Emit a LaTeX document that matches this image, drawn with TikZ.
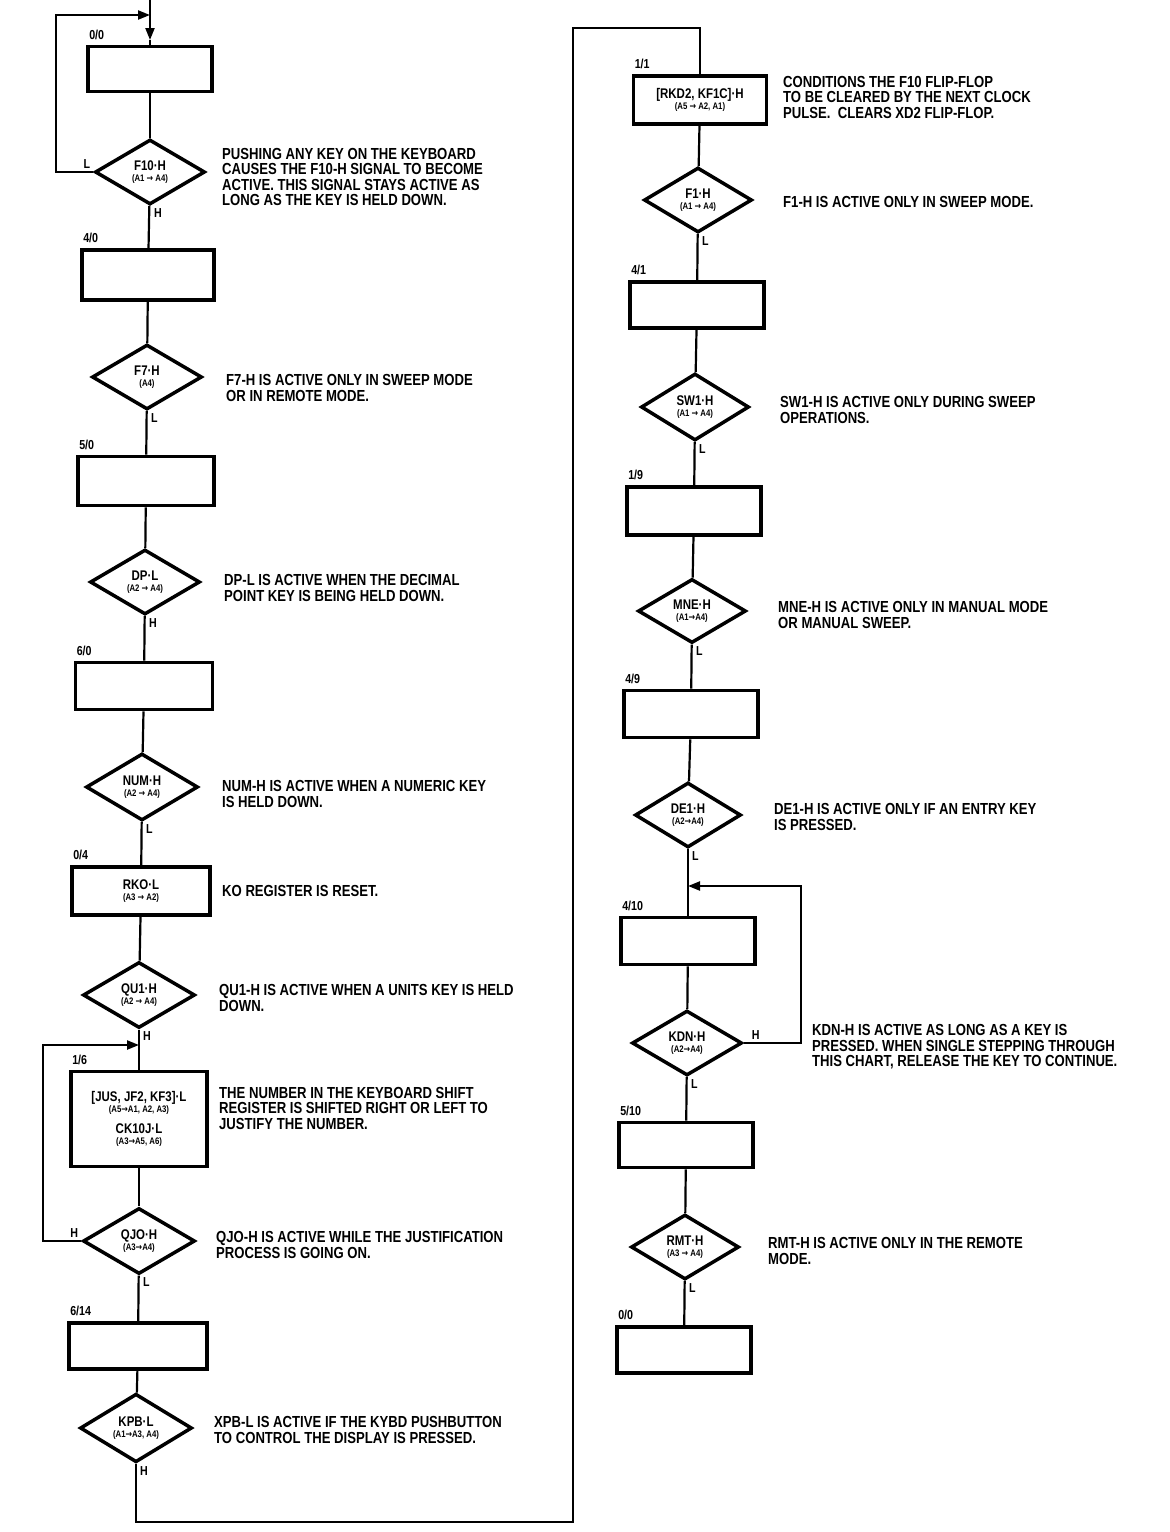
\documentclass[tikz,border=0pt]{standalone}
\usepackage{fontspec}
\setmainfont{Liberation Sans}[FakeStretch=0.82]
\newfontfamily\arrfont{DejaVu Sans}[FakeStretch=0.82]
\usetikzlibrary{shapes.geometric,arrows.meta}
\newcommand{\myarr}{{\arrfont\char"2192}}
\newcommand{\dtext}[2]{{\fontsize{14}{14}\selectfont #1}\\[-1pt]{\fontsize{9.5}{10}\selectfont #2}}
\begin{document}
\begin{tikzpicture}[x=1pt,y=-1pt,font=\bfseries,
  box/.style={draw,line width=3.8pt,inner sep=0pt,align=center},
  dia/.style={draw,diamond,line width=3.5pt,inner sep=0pt,align=center},
  conn/.style={line width=2.2pt},
  arr/.style={conn,-{Triangle[length=12pt,width=9pt]}},
  note/.style={anchor=west,align=left,inner sep=0pt,font=\bfseries\fontsize{16}{15.5}\selectfont},
  st/.style={anchor=south west,inner sep=0pt,font=\bfseries\fontsize{13}{13}\selectfont},
  el/.style={inner sep=0pt,font=\bfseries\fontsize{13}{13}\selectfont}]
\fill[white] (0,0) rectangle (1170,1532);
\useasboundingbox (0,0) rectangle (1170,1532);

% ---------------- left column ----------------
\node[box,minimum width=124pt,minimum height=45pt] (b00) at (150,69) {};
\node[dia,minimum width=110pt,minimum height=65pt] (d1) at (150,172) {\dtext{F10·H}{(A1 \myarr{} A4)}};
\node[box,minimum width=132pt,minimum height=50pt] (b40) at (148,275) {};
\node[dia,minimum width=110pt,minimum height=65pt] (d2) at (147,377) {\dtext{F7·H}{(A4)}};
\node[box,minimum width=136pt,minimum height=49pt] (b50) at (146,481) {};
\node[dia,minimum width=110pt,minimum height=65pt] (d3) at (145,582) {\dtext{DP·L}{(A2 \myarr{} A4)}};
\node[box,minimum width=137pt,minimum height=47pt] (b60) at (144,686) {};
\node[dia,minimum width=112pt,minimum height=67pt] (d4) at (142,787) {\dtext{NUM·H}{(A2 \myarr{} A4)}};
\node[box,minimum width=138pt,minimum height=48pt] (b04) at (141,891) {\dtext{RKO·L}{(A3 \myarr{} A2)}};
\node[dia,minimum width=112pt,minimum height=66pt] (d5) at (139,995) {\dtext{QU1·H}{(A2 \myarr{} A4)}};
\node[box,minimum width=136pt,minimum height=95pt] (b16) at (139,1119)
  {\dtext{[JUS, JF2, KF3]·L}{(A5\myarr{}A1, A2, A3)}\\[9pt]\dtext{CK10J·L}{(A3\myarr{}A5, A6)}};
\node[dia,minimum width=112pt,minimum height=66pt] (d6) at (139,1241) {\dtext{QJO·H}{(A3\myarr{}A4)}};
\node[box,minimum width=138pt,minimum height=46pt] (b614) at (138,1346) {};
\node[dia,minimum width=112pt,minimum height=66pt] (d7) at (136,1428) {\dtext{KPB·L}{(A1\myarr{}A3, A4)}};

\node[st] at ([xshift=3pt,yshift=5pt]b00.north west) {0/0};
\node[st] at ([xshift=3pt,yshift=5pt]b40.north west) {4/0};
\node[st] at ([xshift=3pt,yshift=5pt]b50.north west) {5/0};
\node[st] at ([xshift=3pt,yshift=5pt]b60.north west) {6/0};
\node[st] at ([xshift=3pt,yshift=5pt]b04.north west) {0/4};
\node[st] at ([xshift=3pt,yshift=5pt]b16.north west) {1/6};
\node[st] at ([xshift=3pt,yshift=5pt]b614.north west) {6/14};

\coordinate (top) at (150,0);
\coordinate (tarr) at (150,40);
\coordinate (l1) at (56,15);
\coordinate (tj) at (150,15);
\draw[arr] (top) -- (tarr);
\draw[conn] (tarr) -- (b00.north);
\draw[arr] (d1.west) -| (l1) -- (tj);
\draw[conn] (b00) -- (d1);
\draw[conn] (d1) -- (b40);
\draw[conn] (b40) -- (d2);
\draw[conn] (d2) -- (b50);
\draw[conn] (b50) -- (d3);
\draw[conn] (d3) -- (b60);
\draw[conn] (b60) -- (d4);
\draw[conn] (d4) -- (b04);
\draw[conn] (b04) -- (d5);
\draw[conn] (d5) -- (b16);
\draw[conn] (b16) -- (d6);
\draw[conn] (d6) -- (b614);
\draw[conn] (b614) -- (d7);
\coordinate (l2) at (43,1045);
\coordinate (tj2) at (139,1045);
\draw[arr] (d6.west) -| (l2) -- (tj2);

\node[el,anchor=south east] at ([xshift=-3pt,yshift=3pt]d1.west) {L};
\node[el,anchor=north west] at ([xshift=4pt,yshift=-2pt]d1.south) {H};
\node[el,anchor=north west] at ([xshift=4pt,yshift=-2pt]d2.south) {L};
\node[el,anchor=north west] at ([xshift=4pt,yshift=-2pt]d3.south) {H};
\node[el,anchor=north west] at ([xshift=4pt,yshift=-2pt]d4.south) {L};
\node[el,anchor=north west] at ([xshift=4pt,yshift=-2pt]d5.south) {H};
\node[el,anchor=south east] at ([xshift=-3pt,yshift=3pt]d6.west) {H};
\node[el,anchor=north west] at ([xshift=4pt,yshift=-2pt]d6.south) {L};
\node[el,anchor=north west] at ([xshift=4pt,yshift=-2pt]d7.south) {H};

\node[note] (n1) at (222,177) {PUSHING ANY KEY ON THE KEYBOARD\\CAUSES THE F10-H SIGNAL TO BECOME\\ACTIVE. THIS SIGNAL STAYS ACTIVE AS\\LONG AS THE KEY IS HELD DOWN.};
\node[note] (n2) at (226,388) {F7-H IS ACTIVE ONLY IN SWEEP MODE\\OR IN REMOTE MODE.};
\node[note] (n3) at (224,588) {DP-L IS ACTIVE WHEN THE DECIMAL\\POINT KEY IS BEING HELD DOWN.};
\node[note] (n4) at (222,794) {NUM-H IS ACTIVE WHEN A NUMERIC KEY\\IS HELD DOWN.};
\node[note] (n5) at (222,891) {KO REGISTER IS RESET.};
\node[note] (n6) at (219,998) {QU1-H IS ACTIVE WHEN A UNITS KEY IS HELD\\DOWN.};
\node[note] (n7) at (219,1108) {THE NUMBER IN THE KEYBOARD SHIFT\\REGISTER IS SHIFTED RIGHT OR LEFT TO\\JUSTIFY THE NUMBER.};
\node[note] (n8) at (216,1245) {QJO-H IS ACTIVE WHILE THE JUSTIFICATION\\PROCESS IS GOING ON.};
\node[note] (n9) at (214,1430) {XPB-L IS ACTIVE IF THE KYBD PUSHBUTTON\\TO CONTROL THE DISPLAY IS PRESSED.};

% ---------------- right column ----------------
\node[box,minimum width=133pt,minimum height=48pt] (b11) at (700,100) {\dtext{[RKD2, KF1C]·H}{(A5 \myarr{} A2, A1)}};
\node[dia,minimum width=108pt,minimum height=65pt] (d8) at (698,200) {\dtext{F1·H}{(A1 \myarr{} A4)}};
\node[box,minimum width=134pt,minimum height=46pt] (b41) at (697,305) {};
\node[dia,minimum width=108pt,minimum height=67pt] (d9) at (695,407) {\dtext{SW1·H}{(A1 \myarr{} A4)}};
\node[box,minimum width=134pt,minimum height=48pt] (b19) at (694,511) {};
\node[dia,minimum width=108pt,minimum height=64pt] (d10) at (692,611) {\dtext{MNE·H}{(A1\myarr{}A4)}};
\node[box,minimum width=134pt,minimum height=47pt] (b49) at (691,714) {};
\node[dia,minimum width=106pt,minimum height=65pt] (d11) at (688,815) {\dtext{DE1·H}{(A2\myarr{}A4)}};
\node[box,minimum width=134pt,minimum height=47pt] (b410) at (688,941) {};
\node[dia,minimum width=110pt,minimum height=65pt] (d12) at (687,1043) {\dtext{KDN·H}{(A2\myarr{}A4)}};
\node[box,minimum width=134pt,minimum height=45pt] (b510) at (686,1145) {};
\node[dia,minimum width=108pt,minimum height=65pt] (d13) at (685,1247) {\dtext{RMT·H}{(A3 \myarr{} A4)}};
\node[box,minimum width=134pt,minimum height=46pt] (b00b) at (684,1350) {};

\node[st] at ([xshift=3pt,yshift=5pt]b11.north west) {1/1};
\node[st] at ([xshift=3pt,yshift=5pt]b41.north west) {4/1};
\node[st] at ([xshift=3pt,yshift=5pt]b19.north west) {1/9};
\node[st] at ([xshift=3pt,yshift=5pt]b49.north west) {4/9};
\node[st] at ([xshift=3pt,yshift=5pt]b410.north west) {4/10};
\node[st] at ([xshift=3pt,yshift=5pt]b510.north west) {5/10};
\node[st] at ([xshift=3pt,yshift=5pt]b00b.north west) {0/0};

\coordinate (c2) at (573,1522);
\coordinate (c3) at (573,28);
\coordinate (c4) at (700,28);
\draw[conn] (d7.south) |- (c2) -- (c3) -- (c4) -- (b11.north);
\draw[conn] (b11) -- (d8);
\draw[conn] (d8) -- (b41);
\draw[conn] (b41) -- (d9);
\draw[conn] (d9) -- (b19);
\draw[conn] (b19) -- (d10);
\draw[conn] (d10) -- (b49);
\draw[conn] (b49) -- (d11);
\draw[conn] (d11) -- (b410);
\draw[conn] (b410) -- (d12);
\draw[conn] (d12) -- (b510);
\draw[conn] (b510) -- (d13);
\draw[conn] (d13) -- (b00b);
\coordinate (k1) at (801,1043);
\coordinate (k2) at (801,886);
\coordinate (kj) at (688,886);
\draw[arr] (d12.east) -- (k1) -- (k2) -- (kj);

\node[el,anchor=north west] at ([xshift=4pt,yshift=-2pt]d8.south) {L};
\node[el,anchor=north west] at ([xshift=4pt,yshift=-2pt]d9.south) {L};
\node[el,anchor=north west] at ([xshift=4pt,yshift=-2pt]d10.south) {L};
\node[el,anchor=north west] at ([xshift=4pt,yshift=-2pt]d11.south) {L};
\node[el,anchor=south west] at ([xshift=8pt,yshift=3pt]d12.east) {H};
\node[el,anchor=north west] at ([xshift=4pt,yshift=-2pt]d12.south) {L};
\node[el,anchor=north west] at ([xshift=4pt,yshift=-2pt]d13.south) {L};

\node[note] (m1) at (783,97) {CONDITIONS THE F10 FLIP-FLOP\\TO BE CLEARED BY THE NEXT CLOCK\\PULSE.\ \ CLEARS XD2 FLIP-FLOP.};
\node[note] (m2) at (783,202) {F1-H IS ACTIVE ONLY IN SWEEP MODE.};
\node[note] (m3) at (780,410) {SW1-H IS ACTIVE ONLY DURING SWEEP\\OPERATIONS.};
\node[note] (m4) at (778,615) {MNE-H IS ACTIVE ONLY IN MANUAL MODE\\OR MANUAL SWEEP.};
\node[note] (m5) at (774,817) {DE1-H IS ACTIVE ONLY IF AN ENTRY KEY\\IS PRESSED.};
\node[note] (m6) at (812,1047) {KDN-H IS ACTIVE AS LONG AS A KEY IS\\PRESSED. WHEN SINGLE STEPPING THROUGH\\THIS CHART, RELEASE THE KEY TO CONTINUE.};
\node[note] (m7) at (768,1251) {RMT-H IS ACTIVE ONLY IN THE REMOTE\\MODE.};
\end{tikzpicture}
\end{document}
